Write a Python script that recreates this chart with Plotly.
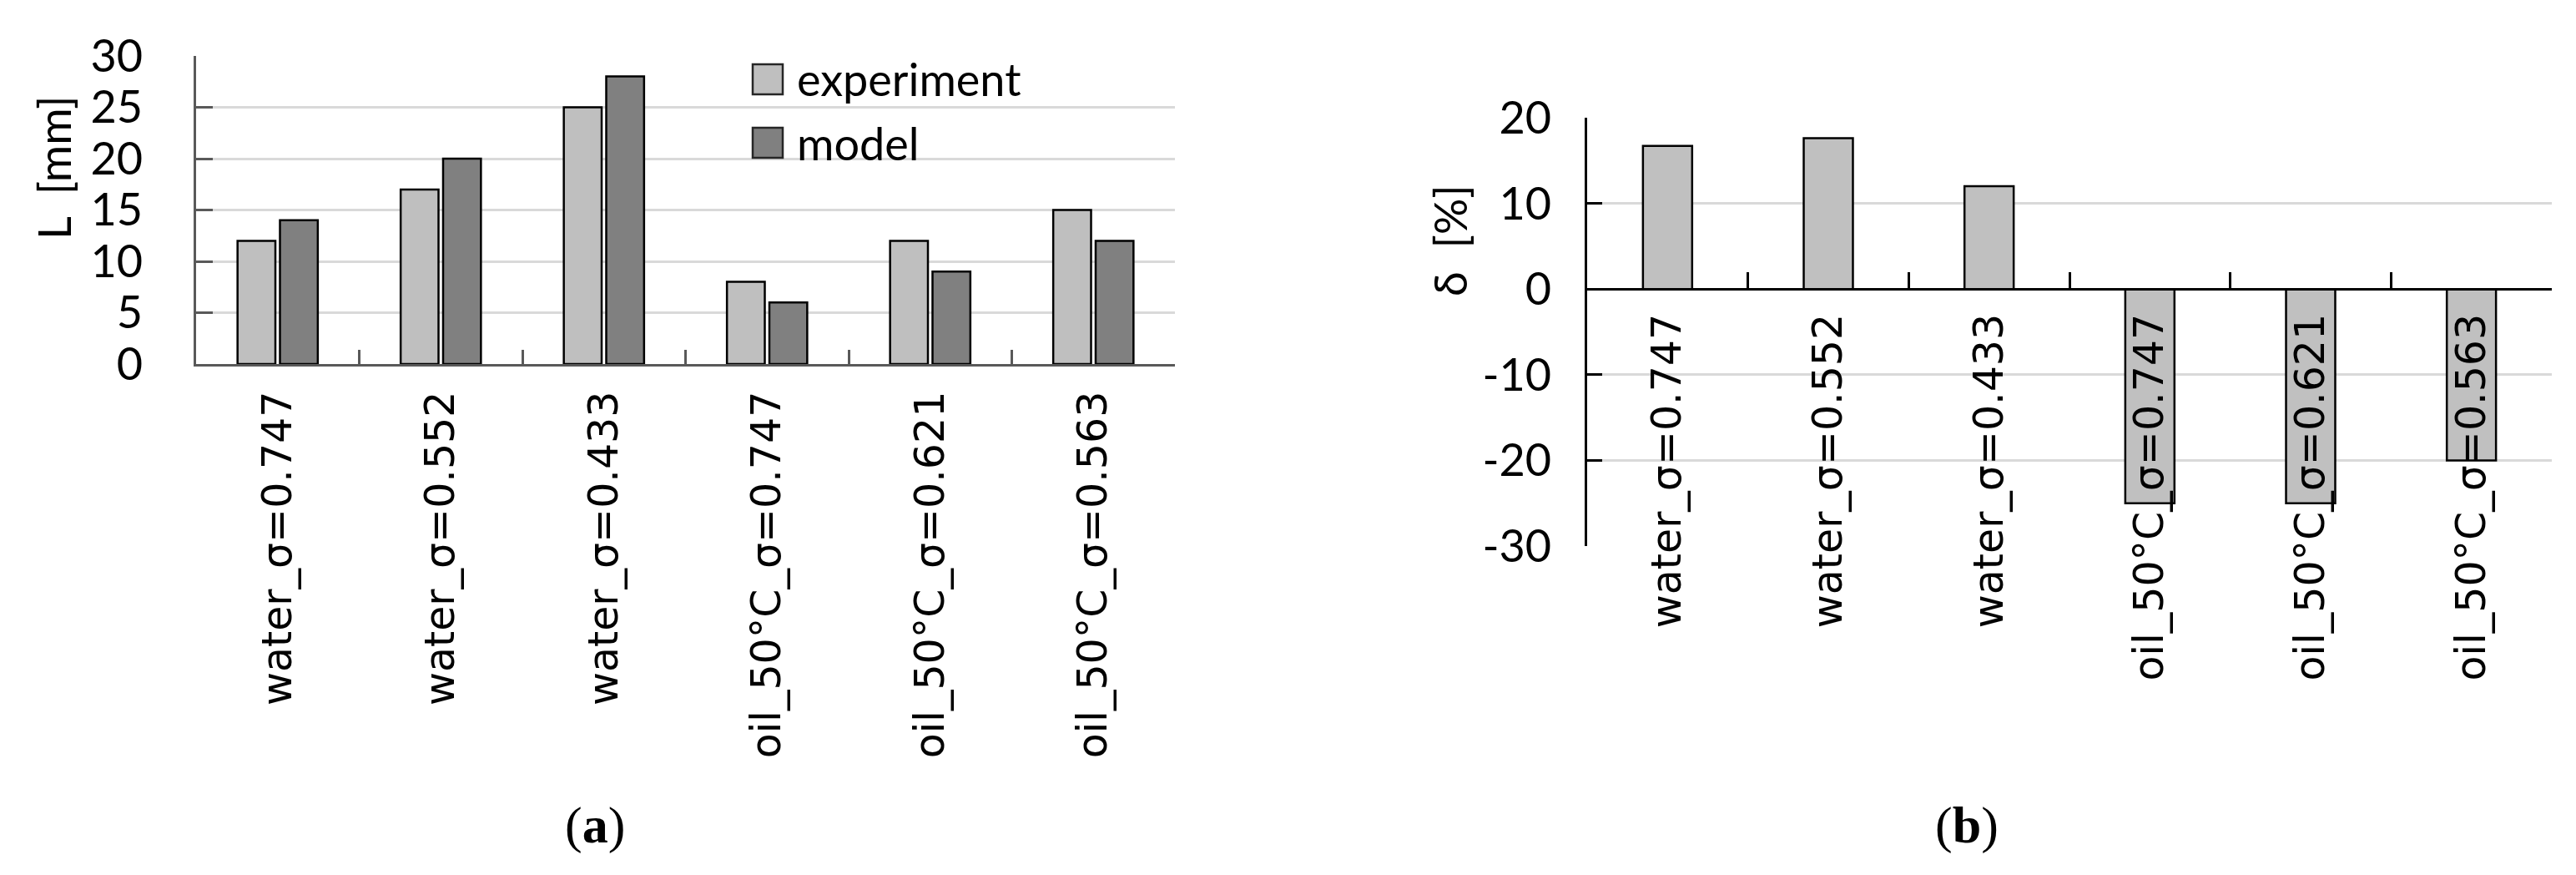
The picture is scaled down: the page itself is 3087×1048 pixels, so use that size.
import plotly.graph_objects as go

# ---------------- data ----------------
categories = ["water_σ=0.747", "water_σ=0.552", "water_σ=0.433",
              "oil_50°C_σ=0.747", "oil_50°C_σ=0.621", "oil_50°C_σ=0.563"]
experiment = [12, 17, 25, 8, 12, 15]
model = [14, 20, 28, 6, 9, 12]
delta = [16.7, 17.6, 12.0, -25, -25, -20]
series_names = ["experiment", "model"]
y_title_a = "L\u00a0\u00a0[mm]"
y_title_b = "δ\u00a0\u00a0[%]"
panel_labels = ["(<b>a</b>)", "(<b>b</b>)"]
range_a = [0, 30]
range_b = [-30, 20]
ticks_b = [-30, -20, -10, 0, 10, 20]
ticklabels_b = ["-30", "-20", "-10", "0", "10", "20"]

# ---------------- styling ----------------
W, H = 3087, 1048
C_EXP = "#bfbfbf"
C_MOD = "#808080"
C_DELTA = "#c0c0c0"
GRID = "#d9d9d9"
AX_A = "#595959"
AX_B = "#000000"
TICKFONT = dict(family="Lato, Open Sans, sans-serif", size=54, color="black")
CATFONT = dict(family="DejaVu Sans, Verdana, sans-serif", size=49, color="black")


def px_x(p):
    return p / W


def px_y(p):
    return 1 - p / H


xa_dom = [px_x(227), px_x(1400)]
ya_dom = [px_y(428), px_y(59)]
xb_dom = [px_x(1894), px_x(3050)]
yb_dom = [px_y(646), px_y(133)]
# zero line position of panel (b) in paper coords
zero_b = yb_dom[0] + (0 - range_b[0]) / (range_b[1] - range_b[0]) * (yb_dom[1] - yb_dom[0])

fig = go.Figure()

fig.add_trace(go.Bar(x=categories, y=experiment, name=series_names[0],
                     marker=dict(color=C_EXP, line=dict(color="black", width=2.5)),
                     xaxis="x", yaxis="y", showlegend=False))
fig.add_trace(go.Bar(x=categories, y=model, name=series_names[1],
                     marker=dict(color=C_MOD, line=dict(color="black", width=2.5)),
                     xaxis="x", yaxis="y", showlegend=False))
fig.add_trace(go.Bar(x=categories, y=delta, name="δ", width=0.306,
                     marker=dict(color=C_DELTA, line=dict(color="black", width=2.5)),
                     xaxis="x2", yaxis="y2", showlegend=False))

fig.update_layout(
    width=W, height=H,
    margin=dict(l=0, r=0, t=0, b=0),
    paper_bgcolor="white", plot_bgcolor="white",
    barmode="group", bargap=0.48, bargroupgap=0.108,
    xaxis=dict(domain=xa_dom, anchor="y", type="category",
               showline=True, linecolor=AX_A, linewidth=3,
               ticks="inside", tickson="boundaries", ticklen=17, tickwidth=3, tickcolor=AX_A,
               tickangle=-90, tickfont=CATFONT, ticklabelstandoff=10,
               showgrid=False, automargin=False),
    yaxis=dict(domain=ya_dom, anchor="x", range=range_a, tick0=0, dtick=5,
               showline=True, linecolor=AX_A, linewidth=3,
               ticks="inside", ticklen=20, tickwidth=3, tickcolor=AX_A,
               tickfont=TICKFONT, ticklabelstandoff=50,
               showgrid=True, gridcolor=GRID, gridwidth=3, zeroline=False, automargin=False),
    xaxis2=dict(domain=xb_dom, anchor="free", position=zero_b, type="category",
                showline=True, linecolor=AX_B, linewidth=3,
                ticks="inside", tickson="boundaries", ticklen=19, tickwidth=3, tickcolor=AX_B,
                tickangle=-90, tickfont=CATFONT, ticklabelstandoff=8,
                showgrid=False, automargin=False),
    yaxis2=dict(domain=yb_dom, anchor="x2", range=range_b,
                tickmode="array", tickvals=ticks_b, ticktext=ticklabels_b,
                showline=True, linecolor=AX_B, linewidth=3,
                ticks="inside", ticklen=18, tickwidth=3, tickcolor=AX_B,
                tickfont=TICKFONT, ticklabelstandoff=29,
                showgrid=True, gridcolor=GRID, gridwidth=3, zeroline=False, automargin=False),
)

# axis titles (placed as in the reference)
fig.add_annotation(text=y_title_a, xref="paper", yref="paper", x=px_x(57), y=px_y(192),
                   textangle=-90, showarrow=False, font=TICKFONT, xanchor="center", yanchor="middle")
fig.add_annotation(text=y_title_b, xref="paper", yref="paper", x=px_x(1729), y=px_y(280),
                   textangle=-90, showarrow=False, font=TICKFONT, xanchor="center", yanchor="middle")

# legend (large square swatches as in the reference)
legend_colors = [C_EXP, C_MOD]
legend_rows = [87, 163]
for name, col, yc in zip(series_names, legend_colors, legend_rows):
    fig.add_shape(type="rect", xref="paper", yref="paper",
                  x0=px_x(894), x1=px_x(930), y0=px_y(yc + 18), y1=px_y(yc - 18),
                  fillcolor=col, line=dict(color="#262626", width=2.5))
    fig.add_annotation(text=name, xref="paper", yref="paper", x=px_x(945), y=px_y(yc),
                       xanchor="left", yanchor="middle", showarrow=False, font=TICKFONT)

# panel labels
for lab, xc in zip(panel_labels, [705, 2349]):
    fig.add_annotation(text=lab, xref="paper", yref="paper", x=px_x(xc), y=px_y(980),
                       xanchor="center", yanchor="middle", showarrow=False,
                       font=dict(family="Liberation Serif, Times New Roman, serif", size=62, color="black"))

fig.write_html("out.html")
